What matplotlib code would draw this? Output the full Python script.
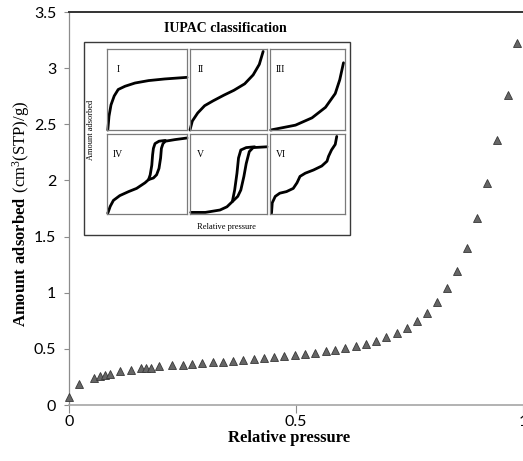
"""Nitrogen adsorption isotherm with the IUPAC isotherm-type sketch as inset."""

import matplotlib
matplotlib.use("Agg")
import matplotlib.pyplot as plt
from matplotlib.patches import Rectangle

W, H = 523, 461

# measured isotherm (relative pressure, cm3(STP)/g)
pressure = [0.000, 0.023, 0.055, 0.068, 0.080, 0.090, 0.113, 0.136, 0.159, 0.170,
            0.180, 0.199, 0.227, 0.250, 0.271, 0.294, 0.317, 0.339, 0.361, 0.384,
            0.407, 0.429, 0.452, 0.474, 0.497, 0.519, 0.542, 0.565, 0.587, 0.609,
            0.632, 0.654, 0.676, 0.699, 0.722, 0.744, 0.767, 0.789, 0.811, 0.833,
            0.855, 0.877, 0.899, 0.921, 0.943, 0.968, 0.987]
adsorbed = [0.069, 0.188, 0.244, 0.259, 0.271, 0.280, 0.300, 0.313, 0.327, 0.333,
            0.333, 0.345, 0.354, 0.360, 0.369, 0.375, 0.381, 0.387, 0.396, 0.402,
            0.414, 0.420, 0.429, 0.435, 0.443, 0.458, 0.464, 0.479, 0.491, 0.512,
            0.527, 0.547, 0.574, 0.607, 0.643, 0.690, 0.747, 0.821, 0.913, 1.042,
            1.190, 1.396, 1.664, 1.979, 2.363, 2.762, 3.220]

x_ticks = [0, 0.5, 1]
x_tick_labels = ["0", "0.5", "1"]
y_ticks = [0, 0.5, 1, 1.5, 2, 2.5, 3, 3.5]
y_tick_labels = ["0", "0.5", "1", "1.5", "2", "2.5", "3", "3.5"]

# IUPAC sketch curves, panel-normalised (x, y)
type_names = ["I", "II", "III", "IV", "V", "VI"]
type_curves = {
    "I": [[(0.01, 0.0), (0.025, 0.17), (0.05, 0.31), (0.09, 0.42), (0.14, 0.50),
           (0.225, 0.54), (0.35, 0.58), (0.52, 0.61), (0.72, 0.63), (1.0, 0.65)]],
    "II": [[(0.0, 0.0), (0.03, 0.11), (0.1, 0.21), (0.19, 0.30), (0.3, 0.36),
            (0.44, 0.43), (0.57, 0.49), (0.71, 0.57), (0.82, 0.68), (0.9, 0.81),
            (0.95, 0.97)]],
    "III": [[(0.01, 0.0), (0.12, 0.02), (0.34, 0.06), (0.56, 0.15), (0.74, 0.28),
             (0.87, 0.45), (0.93, 0.62), (0.98, 0.83)]],
    "IV": [[(0.01, 0.01), (0.04, 0.095), (0.08, 0.17), (0.16, 0.23), (0.27, 0.28),
            (0.37, 0.32), (0.475, 0.39), (0.52, 0.43), (0.58, 0.45), (0.62, 0.49),
            (0.65, 0.57), (0.67, 0.70), (0.68, 0.82), (0.70, 0.88), (0.73, 0.91),
            (0.85, 0.93), (1.0, 0.95)],
           [(0.52, 0.43), (0.54, 0.49), (0.56, 0.61), (0.57, 0.74), (0.58, 0.82),
            (0.60, 0.88), (0.65, 0.91), (0.73, 0.92)]],
    "V": [[(0.01, 0.02), (0.2, 0.02), (0.39, 0.05), (0.48, 0.09), (0.55, 0.155),
           (0.62, 0.22), (0.66, 0.30), (0.70, 0.47), (0.73, 0.63), (0.77, 0.78),
           (0.82, 0.83), (1.0, 0.84)],
          [(0.55, 0.155), (0.58, 0.30), (0.61, 0.51), (0.63, 0.70), (0.66, 0.80),
           (0.73, 0.83), (0.84, 0.84)]],
    "VI": [[(0.02, 0.01), (0.03, 0.14), (0.07, 0.22), (0.13, 0.26), (0.22, 0.28),
            (0.31, 0.32), (0.36, 0.39), (0.40, 0.47), (0.47, 0.51), (0.58, 0.55),
            (0.69, 0.60), (0.76, 0.66), (0.78, 0.72), (0.82, 0.80), (0.87, 0.87),
            (0.89, 0.97)]],
}

SERIF = "Liberation Serif"
SANS = "Lato"


def px_box(x0, y0, x1, y1):
    """Pixel box (top-left origin) -> figure fraction rect."""
    return [x0 / W, 1 - y1 / H, (x1 - x0) / W, (y1 - y0) / H]


def draw_main(fig):
    ax = fig.add_axes(px_box(69, 12, 523, 405))
    ax.plot(pressure, adsorbed, linestyle="none", marker="^", ms=5.2,
            mfc="#666666", mec="#383838", mew=0.6, clip_on=False, zorder=3)
    ax.set_xlim(0, 1)
    ax.set_ylim(0, 3.5)
    ax.set_xticks(x_ticks, x_tick_labels)
    ax.set_yticks(y_ticks, y_tick_labels)
    ax.tick_params(axis="y", direction="out", length=3.6, width=0.8,
                   color="#8c8c8c", pad=5.6, labelsize=11.5)
    ax.tick_params(axis="x", direction="out", length=5.5, width=0.8,
                   color="#8c8c8c", pad=1.5, labelsize=11.5)
    for lab in ax.get_xticklabels() + ax.get_yticklabels():
        lab.set_fontfamily(SANS)
    ax.spines["right"].set_visible(False)
    ax.spines["left"].set_color("#8c8c8c")
    ax.spines["bottom"].set_color("#a6a6a6")
    ax.spines["left"].set_linewidth(0.9)
    ax.spines["bottom"].set_linewidth(1.2)
    ax.spines["top"].set_color("#333333")
    ax.spines["top"].set_linewidth(1.4)

    fig.text(289 / W, 1 - 438 / H, "Relative pressure", family=SERIF,
             weight="bold", fontsize=12, ha="center", va="center")
    fig.text(21 / W, 1 - 214 / H,
             r"$\mathbf{Amount\ adsorbed}\ \mathrm{(cm^{3}(STP)/g)}$",
             fontsize=12, rotation=90, ha="center", va="center")
    return ax


def draw_inset(fig):
    box = Rectangle((84 / W, 1 - 235 / H), (350 - 84) / W, (235 - 42) / H,
                    transform=fig.transFigure, facecolor="white",
                    edgecolor="#3a3a3a", linewidth=1.0, zorder=5)
    fig.patches.append(box)
    fig.text(225 / W, 1 - 28 / H, "IUPAC classification", family=SERIF,
             weight="bold", fontsize=10, ha="center", va="center")
    fig.text(91 / W, 1 - 130 / H, "Amount adsorbed", family=SERIF, fontsize=6,
             rotation=90, ha="center", va="center", zorder=6)
    fig.text(226 / W, 1 - 227 / H, "Relative pressure", family=SERIF, fontsize=6,
             ha="center", va="center", zorder=6)

    cols = [(107, 187), (190, 267), (270, 345)]
    rows = [(49, 130), (134, 214)]
    for i, name in enumerate(type_names):
        x0, x1 = cols[i % 3]
        y0, y1 = rows[i // 3]
        pax = fig.add_axes(px_box(x0, y0, x1, y1), zorder=6)
        for curve in type_curves[name]:
            xs = [p[0] for p in curve]
            ys = [p[1] for p in curve]
            pax.plot(xs, ys, color="black", lw=2.0, solid_capstyle="round",
                     solid_joinstyle="round", clip_on=False)
        pax.set_xlim(0, 1)
        pax.set_ylim(0, 1)
        pax.set_xticks([])
        pax.set_yticks([])
        for sp in pax.spines.values():
            sp.set_color("#7a7a7a")
            sp.set_linewidth(0.9)
        pax.text(0.14, 0.745, name, transform=pax.transAxes, family=SERIF,
                 fontsize=7, ha="center", va="center")


def main():
    plt.rcParams["mathtext.fontset"] = "custom"
    plt.rcParams["mathtext.rm"] = SERIF
    plt.rcParams["mathtext.bf"] = SERIF + ":bold"
    fig = plt.figure(figsize=(W / 100, H / 100), dpi=100)
    draw_main(fig)
    draw_inset(fig)
    fig.savefig("out.png", dpi=100)
    plt.close(fig)


if __name__ == "__main__":
    main()
